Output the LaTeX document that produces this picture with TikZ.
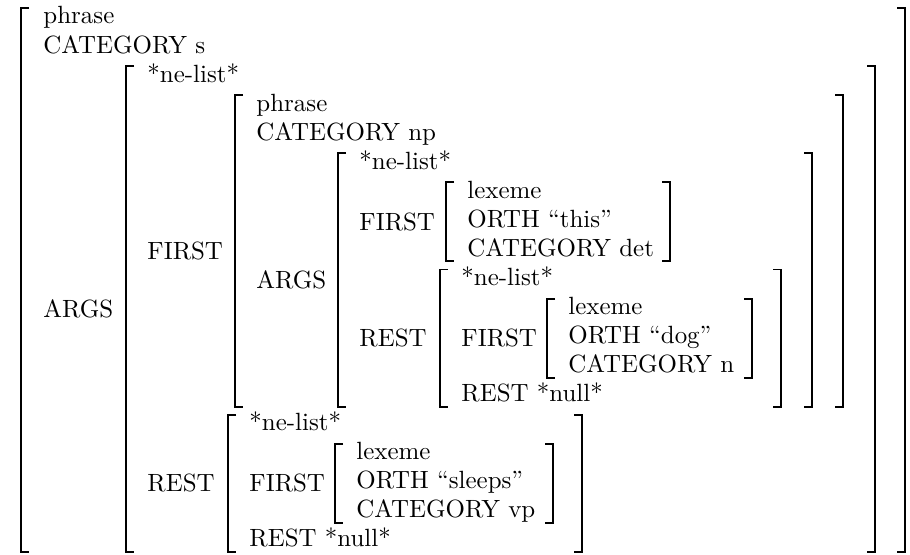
\documentclass[tikz,border=0pt]{standalone}
\usepackage{tikz}

\begin{document}
\begin{tikzpicture}[x=0.4132pt, y=-12pt,
    font=\fontsize{10.3}{12}\selectfont,
    txt/.style={anchor=base west, inner sep=0pt},
    lbl/.style={anchor=west, inner sep=0pt},
    brk/.style={line width=0.8pt}]
  \useasboundingbox (0,0) rectangle (910,19.11);
  % one value line per row, baseline of row \r at \r-0.174
  \foreach \r/\x/\t in {%
    1/43/phrase,%
    2/43/CATEGORY s,%
    3/147/*ne-list*,%
    4/256/phrase,%
    5/256/CATEGORY np,%
    6/359/*ne-list*,%
    7/467/lexeme,%
    8/467/ORTH “this”,%
    9/467/CATEGORY det,%
    10/461/*ne-list*,%
    11/568/lexeme,%
    12/568/ORTH “dog”,%
    13/568/CATEGORY n,%
    14/461/REST *null*,%
    15/249/*ne-list*,%
    16/356/lexeme,%
    17/356/ORTH “sleeps”,%
    18/356/CATEGORY vp,%
    19/249/REST *null*%
  }{
    \node[txt] (r\r) at (\x,\r-0.174) {\t};
  }
  % feature names, centred on the bracket of their value
  \foreach \n/\x/\y/\t in {%
    argsA/43/10.64/ARGS,%
    firstB/147/8.64/FIRST,%
    restB/147/16.64/REST,%
    argsC/256/9.64/ARGS,%
    firstD/359/7.64/FIRST,%
    restD/359/11.64/REST,%
    firstE/461/11.64/FIRST,%
    firstF/249/16.64/FIRST%
  }{
    \node[lbl] (\n) at (\x,\y) {\t};
  }
  % brackets: left x / right x / first row / last row
  \foreach \xl/\xr/\a/\b in {%
    21/905/1/19,%
    126/875/3/19,%
    235/843/4/14,%
    338/812/6/14,%
    446/670/7/9,%
    440/781/10/14,%
    547/752/11/13,%
    228/582/15/19,%
    335/553/16/18%
  }{
    \draw[brk] (\xl+8,\a-0.72) -| (\xl,\b) -- ++(8,0);
    \draw[brk] (\xr-8,\a-0.72) -| (\xr,\b) -- ++(-8,0);
  }
\end{tikzpicture}
\end{document}
